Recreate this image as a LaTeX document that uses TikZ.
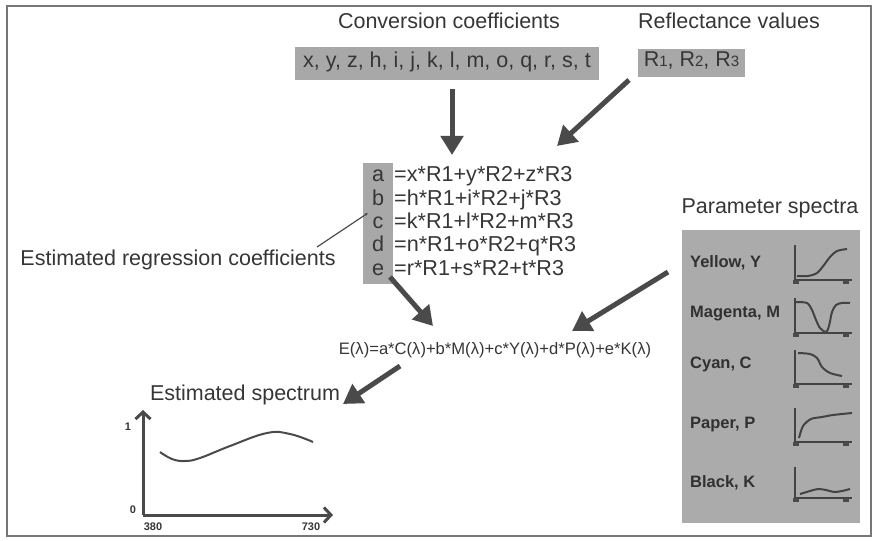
\documentclass[tikz,border=0pt]{standalone}
\usepackage{fontspec}
\setmainfont{Liberation Sans}
\usetikzlibrary{arrows.meta}
\definecolor{txt}{HTML}{363636}
\definecolor{boxgray}{HTML}{A8A8A8}
\definecolor{pgray}{HTML}{ABABAB}
\definecolor{arrgray}{HTML}{4A4A4A}
\definecolor{framegray}{HTML}{777777}
\tikzset{
  lbl/.style={text=txt, font=\fontsize{21.5}{24}\selectfont, inner sep=0pt, text height=0.72em, text depth=0pt},
  eqtxt/.style={text=txt, font=\fontsize{21.6}{24}\selectfont, inner sep=0pt, text height=0.72em, text depth=0pt},
  smalleq/.style={text=txt, font=\fontsize{16.6}{18}\selectfont, inner sep=0pt, text height=0.72em, text depth=0pt},
  plab/.style={text=txt!90!black, font=\fontsize{16.5}{18}\selectfont\bfseries, inner sep=0pt, text height=0.72em, text depth=0pt, anchor=west},
  ticklab/.style={text=txt, font=\fontsize{11}{12}\selectfont\bfseries, inner sep=0pt},
  graybox/.style={fill=boxgray, inner sep=0pt},
  bigarrow/.style={draw=arrgray, line width=5pt, -{Triangle[length=19pt,width=22pt]}},
  thinline/.style={draw=arrgray, line width=1.2pt, -{Latex[length=3pt,width=3pt]}},
  axisline/.style={draw=arrgray, line width=3pt, -{Straight Barb[length=7pt,width=15pt,line width=3pt]}},
  spec/.style={draw=arrgray, line width=2pt},
  miniaxis/.style={draw=arrgray!90!black, line width=1.8pt},
  minicurve/.style={draw=arrgray!90!black, line width=2pt},
}
\begin{document}
\begin{tikzpicture}[x=1pt,y=-1pt]
\useasboundingbox (0,0) rectangle (874,540);
\draw[framegray, line width=1.2pt] (7,6) rectangle (871,536);

% top labels and boxes
\node[lbl] (cc) at (449,25) {Conversion coefficients};
\node[graybox, minimum width=304pt, minimum height=33pt] (cbox) at (447,64) {};
\node[lbl] (ctext) at (cbox.center) {x, y, z, h, i, j, k, l, m, o, q, r, s, t};
\node[lbl] (rv) at (729,25) {Reflectance values};
\node[graybox, minimum width=107pt, minimum height=28pt] (rbox) at (691.5,63) {};
\node[lbl] (rtext) at (rbox.center) {R{\fontsize{15}{16}\selectfont 1}, R{\fontsize{15}{16}\selectfont 2}, R{\fontsize{15}{16}\selectfont 3}};

% arrows into equations
\coordinate (a1s) at (452,89);
\coordinate (a1e) at (452,155);
\draw[bigarrow] (a1s) -- (a1e);
\coordinate (a2s) at (629,80);
\coordinate (a2e) at (557,146);
\draw[bigarrow] (a2s) -- (a2e);

% equations block
\node[graybox, minimum width=30pt, minimum height=121pt] (col) at (378,223.5) {};
\node[eqtxt] (la) at (378,178) {a};
\node[eqtxt] (lb) at (378,202) {b};
\node[eqtxt] (lc) at (378,225) {c};
\node[eqtxt] (ld) at (378,248) {d};
\node[eqtxt] (le) at (378,272) {e};
\node[eqtxt, anchor=west] (ea) at (394,178) {=x*R1+y*R2+z*R3};
\node[eqtxt, anchor=west] (eb) at (394,202) {=h*R1+i*R2+j*R3};
\node[eqtxt, anchor=west] (ec) at (394,225) {=k*R1+l*R2+m*R3};
\node[eqtxt, anchor=west] (ed) at (394,248) {=n*R1+o*R2+q*R3};
\node[eqtxt, anchor=west] (ee) at (394,272) {=r*R1+s*R2+t*R3};

% estimated regression coefficients
\node[lbl] (erc) at (178,262) {Estimated regression coefficients};
\coordinate (tls) at (317,247);
\coordinate (tle) at (368,213);
\draw[thinline] (tls) -- (tle);

% arrows into E equation
\coordinate (a3s) at (390,277);
\coordinate (a3e) at (433,326);
\draw[bigarrow] (a3s) -- (a3e);
\coordinate (a4s) at (668,272);
\coordinate (a4e) at (572,331);
\draw[bigarrow] (a4s) -- (a4e);

\node[smalleq] (Eeq) at (495,351) {E(λ)=a*C(λ)+b*M(λ)+c*Y(λ)+d*P(λ)+e*K(λ)};

% estimated spectrum
\coordinate (a5s) at (400,366);
\coordinate (a5e) at (343,404);
\draw[bigarrow] (a5s) -- (a5e);
\node[lbl] (es) at (245,397) {Estimated spectrum};
\coordinate (org) at (143,515);
\coordinate (ytop) at (143,410);
\coordinate (xend) at (333,515);
\draw[axisline] (org) -- (ytop);
\draw[axisline] (org) -- (xend);
\node[ticklab] (t1) at (128,427) {1};
\node[ticklab] (t0) at (133,510) {0};
\node[ticklab] (t380) at (153,527) {380};
\node[ticklab] (t730) at (311,527) {730};
\draw[spec] plot[smooth, tension=0.7] coordinates {(160,452)(172,459)(185,461)(200,458)(230,446)(267,433)(290,434)(313,442)};

% parameter spectra
\node[lbl] (ps) at (770,210) {Parameter spectra};
\node[fill=pgray, inner sep=0pt, minimum width=178pt, minimum height=293pt] (pbox) at (771,376.5) {};
\node[plab] (ly) at (690,264) {Yellow, Y};
\node[plab] (lm) at (690,314) {Magenta, M};
\node[plab] (lcy) at (690,365) {Cyan, C};
\node[plab] (lp) at (690,425) {Paper, P};
\node[plab] (lk) at (690,484) {Black, K};

% mini graphs
\foreach \top/\base in {245/280, 298/333, 350/384, 408/442, 467/498}{
  \draw[miniaxis] (795,\top) -- (795,\base) -- (852,\base);
  \fill[arrgray] (793,\base) rectangle (799,\base+4);
  \fill[arrgray] (843,\base) rectangle (849,\base+4);
}
\draw[minicurve] plot[smooth] coordinates {(797,276)(808,276)(817,273)(824,265)(830,257)(837,251)(847,249)};
\draw[minicurve] plot[smooth] coordinates {(796,302)(807,303)(812,310)(816,320)(820,328)(826,332)(829,326)(832,312)(836,305)(842,303)(850,303)};
\draw[minicurve] plot[smooth] coordinates {(798,353)(810,354)(817,358)(822,367)(830,373)(842,376)};
\draw[minicurve] plot[smooth] coordinates {(799,438)(803,426)(811,419)(822,417)(833,415)(852,413)};
\draw[minicurve] plot[smooth] coordinates {(800,494)(810,491)(818,489)(826,490)(834,492)(842,491)(850,489)};
\end{tikzpicture}
\end{document}
